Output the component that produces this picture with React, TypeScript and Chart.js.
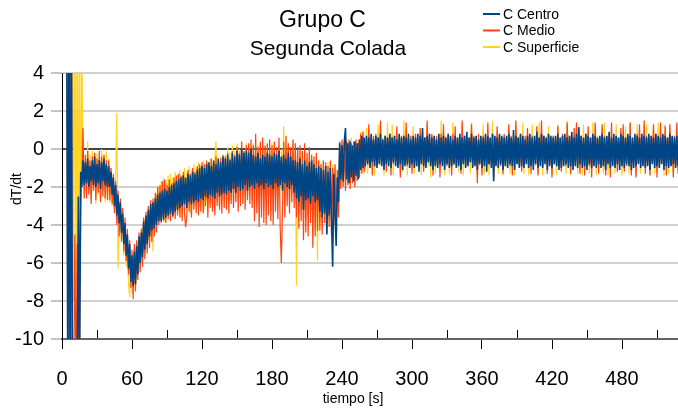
import React, { useEffect, useRef } from 'react';
import { Chart, registerables } from 'chart.js';

Chart.register(...registerables);

const TITLE = 'Grupo C';
const SUBTITLE = 'Segunda Colada';
const SERIES_NAMES = ['C Centro', 'C Medio', 'C Superficie'];
const SERIES_COLORS = ['#004586', '#ff420e', '#ffd320'];
const SERIES_WIDTHS = [1.6, 1.2, 1.2];
const X_TITLE = 'tiempo [s]';
const Y_TITLE = 'dT/dt';
const X_TICKS = [0, 60, 120, 180, 240, 300, 360, 420, 480];
const X_MINOR = [30, 90, 150, 210, 270, 330, 390, 450, 510];
const Y_TICKS = [-10, -8, -6, -4, -2, 0, 2, 4];
const T_STEP = 1; // sampling interval [s]

// C Centro  (t = 0, 1, 2 ... 528 s) — 20 samples per row
const centro: (number | null)[] = [
  null, null, null, null, 9, -14, 9, -14, 9, -14, -12, -13, -12, -13, -2.5, -12, -1.2, -2.0, -0.6, -1.9,
  -0.7, -1.8, -0.5, -2.0, -0.9, -1.7, -0.6, -1.9, -0.4, -2.0, -0.8, -1.8, -0.6, -2.1, -0.7, -1.7, -0.5, -1.9, -0.8, -2.0,
  -0.9, -2.0, -1.2, -2.4, -1.5, -3.0, -1.9, -3.5, -2.4, -3.9, -2.8, -4.4, -3.4, -5.0, -3.9, -5.6, -4.5, -6.3, -5.0, -7.0,
  -5.6, -7.2, -5.4, -7.1, -5.1, -6.6, -4.6, -6.0, -4.4, -5.7, -3.8, -5.3, -3.5, -5.0, -3.2, -4.6, -2.9, -4.3, -2.8, -4.2,
  -2.6, -4.0, -2.4, -3.8, -2.3, -3.8, -2.2, -3.7, -2.1, -3.6, -2.2, -3.5, -2.0, -3.4, -1.9, -3.5, -1.8, -3.3, -1.7, -3.2,
  -1.6, -3.1, -1.5, -3.0, -1.4, -2.9, -1.5, -3.1, -1.3, -2.8, -1.4, -2.9, -1.2, -2.8, -1.3, -2.7, -1.1, -2.8, -1.0, -2.6,
  -0.9, -2.7, -1.0, -2.5, -0.8, -2.6, -0.7, -2.4, -0.9, -2.5, -0.6, -2.6, -0.8, -2.3, -0.5, -2.5, -0.7, -2.4, -0.4, -2.3,
  -0.5, -2.4, -0.3, -2.2, -0.6, -2.3, -0.2, -2.1, -0.4, -2.3, -0.1, -2.0, -0.3, -2.2, 0.0, -2.1, -0.2, -1.9, -0.1, -2.2,
  -0.2, -2.0, 0.0, -1.9, -0.3, -2.1, -0.4, -1.8, -0.2, -2.0, -0.5, -1.9, -0.3, -2.1, -0.4, -1.8, -0.2, -2.0, -0.3, -1.9,
  -0.4, -2.1, -0.2, -1.8, -0.3, -2.0, -0.1, -1.9, -0.4, -2.2, -0.3, -1.8, -0.5, -2.0, -0.2, -2.1, -0.4, -1.9, -0.6, -2.3,
  -0.6, -2.6, -0.7, -2.8, -0.5, -2.5, -0.8, -3.2, -0.6, -2.7, -0.9, -2.6, -0.7, -2.9, -0.6, -2.5, -0.8, -2.8, -1.0, -2.7,
  -0.9, -3.3, -1.0, -3.6, -1.1, -3.4, -0.9, -4.5, -1.2, -3.5, -1.0, -3.7, -6.2, -1.3, -3.4, -5.1, -1.5, -2.8, 0.3, -1.6,
  0.2, -1.7, 0.4, 1.1, -1.6, 0.3, -1.8, 0.4, -1.5, 0.2, -1.7, 0.4, -1.4, 0.3, -1.6, 0.5, -1.1, 0.7, -1.0, 0.6,
  -0.9, 0.7, -0.8, 0.6, -1.0, 0.8, -0.7, 0.5, -0.9, 0.7, -1.0, 0.6, -0.8, 0.8, -0.9, 0.5, -1.1, 0.7, -0.8, 0.6,
  -0.9, 0.8, -1.0, 0.6, -0.7, 0.7, -0.9, 0.5, -1.0, 0.8, -0.8, 0.6, -1.1, 0.7, -0.9, 0.6, -0.8, 0.8, -1.0, 0.5,
  -0.8, 0.7, -1.0, 0.6, -0.9, 0.8, -1.2, 0.7, -0.8, 1.1, -0.9, 0.6, -1.0, 0.7, -0.7, 0.8, -0.9, 0.6, -1.1, 0.7,
  -0.9, 0.5, -1.0, 0.8, -0.8, 0.6, -0.9, 0.7, -1.1, 0.6, -0.8, 0.8, -1.0, 0.7, -0.9, 0.5, -0.8, 0.7, -1.0, 0.6,
  -0.9, 0.8, -1.1, 0.6, -0.8, 0.7, -1.0, 0.9, -0.9, 0.6, -0.7, 0.8, -1.0, 0.6, -0.9, 0.7, -1.1, 0.5, -0.8, 0.7,
  -1.0, 0.6, -0.9, 0.8, -1.2, 0.7, -0.8, 0.6, -1.0, 0.8, -1.7, 0.7, -0.9, 0.6, -1.0, 0.8, -0.8, 0.7, -1.1, 0.6,
  -0.9, 0.7, -1.0, 0.8, -0.8, 0.6, -0.9, 1.0, -1.1, 0.7, -0.8, 0.6, -1.0, 0.8, -0.9, 0.7, -1.0, 0.5, -0.8, 0.7,
  -1.0, 0.8, -0.9, 0.6, -1.1, 0.7, -0.8, 0.9, -1.0, 0.6, -0.9, 0.8, -1.0, 0.7, -0.8, 0.6, -1.1, 0.8, -0.9, 0.7,
  -1.0, 0.6, -0.8, 0.7, -0.9, 0.8, -1.1, 0.6, -1.0, 0.7, -0.9, 0.8, -0.8, 0.6, -1.0, 0.7, -0.9, 0.9, -1.1, 0.6,
  -0.9, 0.8, -1.0, 1.15, -0.8, 0.7, -1.0, 0.6, -0.9, 0.8, -1.1, 0.7, -0.8, 0.6, -1.0, 0.8, -0.9, 0.7, -1.0, 0.6,
  -0.8, 0.7, -1.0, 0.8, -0.9, 0.6, -1.1, 0.7, -0.8, 0.9, -1.0, 0.6, -0.9, 0.8, -1.0, 0.7, -0.8, 0.6, -1.1, 0.8,
  -0.9, 0.7, -1.0, 0.6, -0.8, 0.8, -0.9, 0.7, -1.1, 0.6, -1.0, 0.8, -0.9, 0.7, -0.8, 0.6, -1.0, 0.8, -0.9, 0.7,
  -1.0, 0.6, -0.9, 0.8, -1.1, 0.7, -0.8, 0.6, -1.0, 0.8, -0.9, 0.7, -1.0, 0.6, -0.8, 0.8, -1.1, 0.7, -0.9, 0.6,
  -1.0, 0.8, -0.9, 0.7, -0.8, 0.6, -1.0, 0.7, -0.9,
];

// C Medio
const medio: (number | null)[] = [
  null, null, null, null, 10, -12, 11, -13, 10, -12, -13, -4.5, -13, -5.0, -13, -12, -3.0, -1.5, 1.1, -2.6,
  -0.3, -2.6, -0.1, -2.4, -0.6, -2.9, -0.4, -2.2, -0.2, -2.7, -0.5, -2.3, -0.1, -2.8, -0.4, -2.5, -0.3, -2.6, -0.6, -2.7,
  -0.6, -2.7, -1.0, -2.9, -1.3, -3.4, -1.7, -4.0, -2.2, -4.6, -2.6, -4.9, -3.1, -5.4, -3.6, -5.9, -4.2, -6.6, -4.8, -7.3,
  -5.3, -7.9, -5.0, -7.5, -4.8, -6.9, -4.4, -6.5, -4.2, -6.2, -3.6, -5.8, -3.3, -5.5, -3.0, -5.2, -2.7, -4.9, -2.6, -4.6,
  -2.3, -4.4, -2.0, -4.0, -1.9, -3.9, -1.7, -3.8, -1.6, -3.9, -1.9, -3.7, -1.6, -3.8, -1.8, -3.6, -1.5, -3.7, -1.4, -3.5,
  -1.3, -3.6, -1.4, -3.8, -1.2, -3.4, -4.1, -3.5, -1.1, -3.3, -1.3, -3.6, -1.0, -3.2, -1.2, -3.4, -0.9, -3.5, -0.8, -3.3,
  -0.7, -3.4, -0.8, -3.0, -0.6, -3.6, -0.9, -3.1, -0.5, -3.3, -0.7, -3.5, -0.4, -3.0, -0.6, -3.2, -0.5, -3.4, -0.3, -3.1,
  -0.4, -3.2, -0.2, -3.4, -0.5, -2.9, -0.1, -3.1, -0.3, -2.8, 0.1, -3.3, -0.2, -3.0, 0.4, -2.9, -0.1, -3.2, 0.2, -2.7,
  0.3, -2.9, 0.5, -3.1, 0.2, -3.8, 0.8, -3.4, 0.1, -4.1, 0.4, -3.6, 0.6, -3.9, 0.2, -4.0, 0.3, -3.5, 0.5, -3.8,
  0.2, -4.0, 0.4, -3.3, 0.1, -3.7, 0.6, -4.1, -6.0, -3.2, 0.4, -3.6, 0.7, -3.0, 0.3, -3.4, 0.1, -2.8, 0.5, -3.1,
  0.3, -3.6, 0.1, -4.2, 0.2, -3.8, -0.1, -4.8, 0.3, -4.4, -0.2, -4.6, 0.1, -3.9, -0.3, -5.2, -0.4, -4.6, -0.2, -4.3,
  -0.6, -4.3, -0.8, -4.5, -0.6, -3.9, -0.7, -4.4, -0.9, -4.1, -0.6, -4.5, -1.0, -4.0, -0.8, -4.3, -1.1, -3.6, 0.4, -2.1,
  0.5, -2.0, 0.3, -2.2, 0.4, -1.9, 0.5, -2.1, 0.3, -1.8, 0.4, -2.0, 0.5, -1.7, 0.3, -1.5, 0.8, -1.3, 0.9, -1.2,
  -0.8, 0.6, -0.7, 1.3, -0.9, 0.5, -1.4, 0.7, -0.6, 0.8, -0.9, 0.6, -0.7, 1.5, -0.8, 0.5, -0.9, 0.7, -1.2, 0.6,
  -0.7, 0.8, -1.4, 0.6, -0.8, 0.7, -0.6, 1.2, -0.9, 0.5, -1.5, 0.7, -0.8, 0.6, -0.7, 1.4, -0.9, 0.6, -0.8, 0.7,
  -1.3, 0.6, -0.7, 0.8, -0.9, 0.5, -0.8, 1.1, -0.6, 0.7, -1.2, 0.6, -0.8, 1.5, -0.7, 0.6, -0.9, 0.8, -1.4, 0.5,
  -0.8, 0.7, -0.9, 0.6, -1.5, 0.8, -0.7, 1.3, -0.8, 0.5, -0.9, 0.7, -0.6, 0.6, -1.4, 0.8, -0.7, 1.2, -0.9, 0.6,
  -0.8, 0.6, -1.3, 1.5, -0.7, 0.7, -0.9, 0.5, -0.8, 0.6, -0.7, 1.3, -0.9, 0.7, -0.6, 0.6, -1.8, 0.8, -0.8, 0.5,
  -1.4, 0.7, -0.7, 0.6, -0.9, 1.4, -0.8, 0.5, -0.7, 0.8, -1.5, 0.6, -0.8, 1.2, -0.6, 0.7, -0.9, 0.5, -1.3, 0.8,
  -0.8, 0.6, -0.7, 1.3, -0.9, 0.7, -1.4, 0.5, -0.8, 1.5, -0.7, 0.6, -0.9, 0.8, -1.2, 0.6, -0.8, 0.7, -0.7, 1.1,
  -0.9, 0.5, -1.3, 0.7, -0.8, 0.6, -0.7, 1.2, -1.4, 0.6, -0.8, 1.5, -0.9, 0.7, -0.6, 0.5, -1.3, 0.8, -0.8, 0.6,
  -1.5, 0.7, -0.8, 0.6, -0.9, 1.2, -0.7, 0.5, -1.2, 0.8, -0.8, 0.6, -0.9, 1.4, -0.7, 0.7, -1.3, 0.6, -0.8, 1.1,
  -0.7, 1.4, -0.9, 0.6, -1.3, 0.7, -0.8, 0.5, -1.4, 0.8, -0.7, 1.2, -0.9, 0.6, -1.5, 0.7, -0.8, 1.4, -0.7, 0.5,
  -1.3, 0.6, -0.8, 1.3, -0.9, 0.7, -1.4, 0.6, -0.7, 0.8, -1.5, 1.4, -0.8, 0.5, -0.9, 0.7, -1.2, 0.6, -0.7, 1.1,
  -0.8, 1.3, -1.2, 0.6, -0.9, 0.7, -0.7, 1.4, -1.4, 0.5, -0.8, 0.6, -1.5, 0.8, -0.7, 1.3, -0.9, 0.6, -0.8, 1.5,
  -1.3, 0.7, -0.8, 0.6, -1.4, 0.5, -0.7, 1.3, -0.9, 0.8, -1.5, 0.6, -0.8, 1.4, -0.7, 0.7, -0.9, 1.2, -1.4, 0.6,
  -0.8, 1.3, -0.9, 0.6, -1.5, 0.7, -0.8, 1.4, -1.3,
];

// C Superficie
const superficie: (number | null)[] = [
  null, null, null, null, 6, -3, 7, -2, 8, 9, -8, 9, -7.5, 8, -7.8, 9, -7, 6, -1.6, -0.9,
  -1.0, -2.4, 0.4, -2.2, -0.3, -2.6, -0.1, -1.9, -0.5, -2.9, -0.2, -2.4, -0.4, -2.7, 0.0, -2.2, -0.3, -2.8, -0.1, -2.5,
  -0.5, -2.8, -1.0, -3.0, -1.4, -3.3, -1.7, 1.9, -6.3, -4.2, -2.8, -4.8, -3.3, -5.6, -3.9, -6.2, -4.6, -7.0, -7.8, -6.0,
  -7.6, -5.6, -7.2, -5.2, -6.8, -4.9, -6.4, -4.6, -6.0, -4.1, -5.4, -3.7, -5.0, -3.4, -4.8, -3.2, -4.6, -3.0, -5.4, -2.9,
  -4.4, -2.4, -3.8, -2.0, -3.7, -1.7, -3.5, -1.5, -3.8, -1.6, -3.3, -1.4, -3.6, -1.3, -3.2, -1.5, -3.4, -1.2, -3.0, -1.3,
  -3.3, -1.1, -3.6, -1.4, -2.9, -1.0, -3.2, -1.2, -2.8, -0.9, -3.4, -1.1, -2.7, -0.8, -3.0, -1.0, -2.9, -0.7, -3.1, -0.9,
  -2.8, -0.6, -3.2, -0.8, -2.7, -0.7, -3.0, -0.5, -2.9, -0.8, -3.1, -0.6, 0.4, -2.8, -0.7, -3.0, -0.4, -2.7, -0.6, -2.9,
  -0.3, -2.6, 0.1, -2.4, -0.2, -2.7, 0.2, -2.3, -0.1, -2.5, 0.3, -2.2, 0.0, -2.6, 0.2, -2.4, -0.1, -2.1, 0.3, -2.5,
  0.2, -2.4, 0.0, -2.7, 0.3, -2.2, -0.1, -2.6, 0.2, -2.3, 0.1, -2.5, 0.3, -2.0, -0.1, -2.6, 0.2, -2.4, 0.0, -2.2,
  0.3, -2.5, 0.1, -2.3, -0.2, -2.6, 0.2, -2.1, 0.0, -2.4, 1.2, -2.6, 0.1, -2.3, 0.2, -2.5, -0.1, -2.2, 0.3, -2.4,
  -0.2, -7.2, -0.1, -3.5, -0.4, -3.2, -0.2, -3.7, -0.3, -3.4, -0.5, -3.6, -0.2, -3.3, -0.4, -3.7, -0.6, -3.5, -0.3, -5.9,
  -0.6, -3.9, -0.8, -4.1, -0.6, -3.7, -0.9, -4.0, -0.7, -3.8, -1.0, -4.1, -0.8, -3.6, -0.9, -3.9, -1.1, -3.3, 0.2, -2.0,
  0.4, -1.9, 0.2, -2.0, 0.5, -1.7, 0.3, -1.8, 0.6, -1.6, 0.4, -1.9, 0.3, -1.5, 0.5, -1.4, 0.9, -1.2, 1.0, -1.3,
  -0.7, 1.1, -1.3, 0.6, -0.8, 0.7, -0.9, 0.5, -1.4, 0.6, -0.7, 1.3, -0.8, 0.7, -0.9, 0.6, -1.4, 0.5, -0.7, 1.4,
  -0.8, 0.6, -0.9, 1.3, -1.4, 0.7, -0.7, 0.5, -0.8, 0.6, -0.9, 0.7, -1.2, 1.5, -0.7, 0.6, -1.4, 0.5, -0.8, 0.7,
  -0.9, 1.2, -1.3, 0.6, -0.7, 0.5, -0.8, 0.7, -1.4, 1.1, -0.8, 0.6, -0.7, 1.3, -0.9, 0.5, -1.5, 0.7, -0.8, 0.6,
  -1.3, 0.7, -0.8, 0.5, -0.9, 1.5, -0.7, 0.6, -1.4, 0.7, -0.8, 0.5, -1.3, 0.6, -0.7, 1.4, -0.9, 0.7, -0.8, 0.6,
  -1.2, 0.5, -0.7, 1.3, -1.4, 0.6, -0.8, 0.7, -0.9, 0.5, -1.3, 1.4, -0.7, 0.6, -0.8, 0.7, -1.4, 0.5, -0.9, 0.6,
  -0.8, 1.3, -1.3, 0.7, -0.7, 0.6, -1.4, 0.5, -0.8, 1.5, -0.9, 0.7, -0.8, 0.6, -1.3, 0.5, -0.7, 0.7, -1.4, 0.6,
  -0.9, 0.7, -0.8, 1.2, -1.3, 0.6, -0.7, 0.5, -1.4, 1.3, -0.8, 0.7, -0.9, 0.6, -0.7, 1.4, -1.3, 0.5, -0.8, 0.7,
  -1.4, 0.6, -0.8, 1.3, -0.7, 0.5, -0.9, 0.7, -1.3, 1.4, -0.8, 0.6, -1.4, 0.5, -0.7, 0.7, -0.9, 1.2, -0.8, 0.6,
  -1.3, 0.7, -0.7, 0.5, -1.4, 1.3, -0.8, 0.6, -0.9, 0.7, -0.8, 0.5, -1.3, 1.5, -0.7, 0.6, -1.4, 0.7, -0.8, 0.5,
  -0.9, 1.2, -1.3, 0.6, -0.7, 0.5, -1.4, 1.3, -0.8, 0.7, -0.9, 0.6, -1.3, 0.5, -0.7, 1.4, -0.8, 0.6, -1.4, 0.7,
  -0.8, 0.6, -0.7, 1.1, -1.3, 1.4, -0.8, 0.5, -1.4, 0.7, -0.9, 0.6, -0.8, 0.5, -1.3, 1.3, -0.7, 0.6, -0.9, 0.7,
  -1.4, 0.6, -0.8, 1.2, -0.7, 0.5, -1.3, 1.4, -0.9, 0.6, -0.8, 0.7, -1.4, 1.3, -0.7, 0.5, -1.3, 0.6, -0.8, 1.2,
  -0.7, 1.3, -0.9, 0.6, -1.4, 0.7, -0.8, 1.2, -1.3, 0.5, -0.7, 1.4, -0.9, 0.6, -0.8, 0.7, -1.4, 1.3, -0.7, 0.5,
  -1.3, 1.1, -0.8, 0.6, -1.4, 0.7, -0.9, 0.5, -0.8,
];

const SERIES = [centro, medio, superficie];
const FONT = '"Liberation Sans", Arial, sans-serif';

const decorPlugin = {
  id: 'decor',
  afterDraw(chart: any) {
    const ctx: CanvasRenderingContext2D = chart.ctx;
    const xs = chart.scales.x;
    const ca = chart.chartArea;
    ctx.save();
    // minor x ticks (inside, above the axis)
    ctx.strokeStyle = '#000';
    ctx.lineWidth = 1;
    X_MINOR.forEach((v) => {
      const px = Math.round(xs.getPixelForValue(v)) + 0.5;
      ctx.beginPath();
      ctx.moveTo(px, ca.bottom - 1);
      ctx.lineTo(px, ca.bottom - 9);
      ctx.stroke();
    });
    // titles
    ctx.fillStyle = '#000';
    ctx.textAlign = 'center';
    ctx.textBaseline = 'alphabetic';
    ctx.font = `23px ${FONT}`;
    ctx.fillText(TITLE, 322.5, 27);
    ctx.font = `21px ${FONT}`;
    ctx.fillText(SUBTITLE, 328, 55);
    // legend
    ctx.textAlign = 'left';
    ctx.textBaseline = 'middle';
    ctx.font = `14px ${FONT}`;
    const rows = [14, 30.5, 47];
    SERIES_NAMES.forEach((name, i) => {
      ctx.strokeStyle = SERIES_COLORS[i];
      ctx.lineWidth = 2;
      ctx.beginPath();
      ctx.moveTo(483, rows[i]);
      ctx.lineTo(500, rows[i]);
      ctx.stroke();
      ctx.fillStyle = '#000';
      ctx.fillText(name, 503, rows[i] + 1);
    });
    // axis titles
    ctx.textAlign = 'center';
    ctx.font = `14px ${FONT}`;
    ctx.fillText(X_TITLE, 353, 399);
    ctx.translate(17.5, 189);
    ctx.rotate(-Math.PI / 2);
    ctx.fillText(Y_TITLE, 0, 0);
    ctx.restore();
  },
};

export default function App() {
  const ref = useRef<HTMLCanvasElement>(null);
  useEffect(() => {
    const chart = new Chart(ref.current as HTMLCanvasElement, {
      type: 'line',
      data: {
        datasets: SERIES.map((s, i) => ({
          label: SERIES_NAMES[i],
          data: s.map((v, j) => ({ x: j * T_STEP, y: v })),
          borderColor: SERIES_COLORS[i],
          backgroundColor: SERIES_COLORS[i],
          borderWidth: SERIES_WIDTHS[i],
          pointRadius: 0,
          tension: 0,
          fill: false,
          spanGaps: false,
        })),
      },
      options: {
        responsive: false,
        animation: false,
        devicePixelRatio: 1,
        layout: { padding: { top: 73, left: 0, right: 0, bottom: 0 } },
        plugins: {
          legend: { display: false },
          title: { display: false },
          tooltip: { enabled: false },
        },
        scales: {
          x: {
            type: 'linear',
            min: 0,
            max: 528,
            afterFit: (s: any) => { s.height = 75; },
            afterBuildTicks: (s: any) => { s.ticks = X_TICKS.map((v) => ({ value: v })); },
            ticks: {
              autoSkip: false,
              maxRotation: 0,
              padding: 18,
              color: '#000',
              font: { family: FONT, size: 20 },
              callback: (v: any) => String(v),
            },
            grid: {
              drawOnChartArea: false,
              drawTicks: true,
              tickLength: 10,
              tickColor: '#000',
              tickWidth: 1,
            },
            border: { display: true, color: '#666', width: 2 },
          },
          y: {
            min: -10,
            max: 4,
            afterFit: (s: any) => { s.width = 62; },
            afterBuildTicks: (s: any) => { s.ticks = Y_TICKS.map((v) => ({ value: v })); },
            ticks: {
              padding: 7,
              color: '#000',
              font: { family: FONT, size: 20 },
              callback: (v: any) => String(v),
            },
            grid: {
              color: (c: any) => (c.tick && c.tick.value === 0 ? '#444' : c.tick && c.tick.value === -10 ? '#666' : '#d0d0d0'),
              lineWidth: 2,
              tickLength: 11,
              tickColor: '#888',
              tickWidth: 1,
            },
            border: { display: true, color: '#000', width: 1 },
          },
        },
      },
      plugins: [decorPlugin],
    } as any);
    return () => chart.destroy();
  }, []);
  return (
    <div style={{ position: 'fixed', left: 0, top: 0, width: 678, height: 414, background: '#fff' }}>
      <canvas ref={ref} width={678} height={414} style={{ display: 'block' }} />
    </div>
  );
}
